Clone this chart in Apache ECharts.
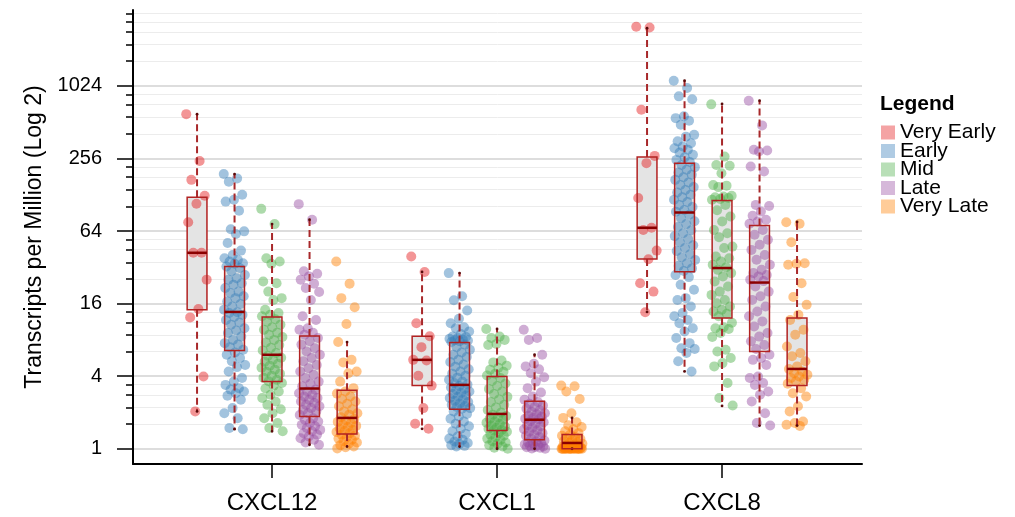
<!DOCTYPE html>
<html><head><meta charset="utf-8">
<script src="https://cdn.jsdelivr.net/npm/echarts@6/dist/echarts.min.js"></script>
<style>html,body{margin:0;padding:0;background:#fff}#c{width:1015px;height:517px}</style>
</head><body><div id="c"></div>
<script>
// ---------- categories / labels ----------
const genes = ['CXCL12', 'CXCL1', 'CXCL8'];
const stages = ['Very Early', 'Early', 'Mid', 'Late', 'Very Late'];
const yTickLabels = [1, 4, 16, 64, 256, 1024];
const yMinorTickValues = [1.6, 2.2, 2.8, 3.4, 6.4, 8.8, 11.2, 13.6, 25.6, 35.2, 44.8, 54.4,
  102.4, 140.8, 179.2, 217.6, 409.6, 563.2, 716.8, 870.4, 1638.4, 2252.8, 2867.2, 3481.6, 4096];

// ---------- point values, log2(TPM) ----------
const cxcl12_veryEarly = [9.22, 7.93, 7.41, 6.97, 6.75, 6.24, 5.40, 5.40, 4.66, 3.85, 3.62, 1.99, 1.03];
const cxcl12_early = [7.57, 7.45, 7.36, 7.00, 6.86, 6.81, 6.56, 6.05, 5.99, 5.92, 5.67, 5.46, 5.34, 5.25, 5.21, 5.16, 5.11, 5.10, 5.02,
  4.98, 4.89, 4.79, 4.70, 4.66, 4.56, 4.52, 4.43, 4.33, 4.29, 4.20, 4.15, 4.06, 3.99, 3.92, 3.83,
  3.76, 3.74, 3.69, 3.63, 3.55, 3.48, 3.42, 3.32, 3.26, 3.19, 3.09, 3.00, 2.91, 2.87, 2.80, 2.73,
  2.65, 2.59, 2.50, 2.41, 2.31, 2.25, 2.13, 1.95, 1.85, 1.76, 1.67, 1.63, 1.58, 1.53, 1.46, 1.35, 1.12, 0.98, 0.84, 0.57, 0.54];
const cxcl12_mid = [6.61, 6.19, 5.25, 5.16, 5.10, 4.61, 4.56, 4.33, 4.15, 4.10, 3.83, 3.74, 3.69, 3.65,
  3.57, 3.50, 3.42, 3.35, 3.28, 3.20, 3.14, 3.08, 3.00, 2.93, 2.86, 2.78, 2.71, 2.64,
  2.56, 2.51, 2.45, 2.40, 2.34, 2.29, 2.23, 2.18, 2.12, 2.07, 2.01, 1.96, 1.90, 1.86,
  1.81, 1.74, 1.66, 1.58, 1.49, 1.40, 1.30, 1.21, 1.09, 0.98, 0.84, 0.71, 0.57, 0.48];
const cxcl12_late = [6.74, 6.31, 4.89, 4.82, 4.75, 4.66, 4.55, 4.43, 4.32, 4.10, 3.65, 3.55, 3.32, 3.28, 3.20, 3.14,
  3.05, 2.96, 2.87, 2.77, 2.68, 2.59, 2.50, 2.41, 2.31, 2.22, 2.13, 2.04, 1.95, 1.85, 1.79, 1.72,
  1.63, 1.58, 1.53, 1.49, 1.44, 1.40, 1.35, 1.30, 1.26, 1.21, 1.17, 1.12, 1.07, 1.03, 0.98, 0.93,
  0.84, 0.80, 0.75, 0.71, 0.66, 0.62, 0.57, 0.52, 0.48, 0.43, 0.39, 0.34, 0.29, 0.25, 0.17, 0.11];
const cxcl12_veryLate = [5.16, 4.55, 4.15, 3.90, 3.44, 2.94, 2.45, 2.38, 2.13, 2.08, 1.85, 1.67,
  1.58, 1.52, 1.44, 1.37, 1.30, 1.24, 1.17, 1.09, 1.03, 0.98, 0.94, 0.87,
  0.82, 0.78, 0.74, 0.71, 0.67, 0.63, 0.60, 0.56, 0.52, 0.49, 0.46, 0.43,
  0.39, 0.36, 0.32, 0.28, 0.25, 0.21, 0.17, 0.14, 0.10, 0.06, 0.04, 0.01];

const cxcl1_veryEarly = [5.30, 4.87, 3.46, 3.10, 2.80, 2.45, 2.43, 2.01, 1.74, 1.12, 0.69, 0.55];
const cxcl1_early = [4.84, 4.20, 4.09, 3.81, 3.58, 3.46, 3.35, 3.32, 3.23, 3.16, 3.09, 3.08, 3.05, 3.03, 3.01, 2.99, 2.98, 2.96, 2.94,
  2.87, 2.80, 2.73, 2.65, 2.59, 2.53, 2.45, 2.39, 2.32, 2.26, 2.19, 2.13, 2.07, 2.01, 1.96, 1.90, 1.85, 1.81, 1.77,
  1.73, 1.69, 1.65, 1.62, 1.58, 1.54, 1.51, 1.47, 1.43, 1.40, 1.36, 1.32, 1.29, 1.25, 1.21, 1.18, 1.15, 1.12, 1.10,
  1.03, 0.96, 0.89, 0.83, 0.75, 0.69, 0.62, 0.55, 0.48, 0.41, 0.34, 0.28, 0.25, 0.20, 0.16, 0.13, 0.10, 0.08, 0.06];
const cxcl1_mid = [3.30, 3.09, 3.05, 3.00, 2.89, 2.86, 2.43, 2.38, 2.29, 2.23, 2.18, 2.12, 2.07, 2.02,
  1.95, 1.87, 1.80, 1.73, 1.65, 1.58, 1.51, 1.43, 1.36, 1.29, 1.21, 1.14, 1.07, 1.00,
  0.94, 0.90, 0.86, 0.83, 0.79, 0.75, 0.72, 0.68, 0.64, 0.61, 0.58, 0.55, 0.52, 0.50,
  0.47, 0.43, 0.39, 0.36, 0.32, 0.28, 0.25, 0.21, 0.17, 0.14, 0.10, 0.06, 0.03, 0.00];
const cxcl1_late = [3.28, 3.05, 3.00, 2.59, 2.34, 2.27, 2.19, 2.08, 1.97, 1.85, 1.67, 1.55, 1.44, 1.35,
  1.29, 1.24, 1.19, 1.15, 1.10, 1.06, 1.02, 0.98, 0.95, 0.91, 0.88, 0.85, 0.83, 0.81,
  0.76, 0.73, 0.69, 0.65, 0.62, 0.58, 0.54, 0.51, 0.47, 0.43, 0.39, 0.36, 0.32, 0.28,
  0.23, 0.20, 0.17, 0.16, 0.14, 0.12, 0.10, 0.08, 0.06, 0.05, 0.04, 0.03, 0.01, 0.00];
const cxcl1_veryLate = [1.74, 1.72, 1.58, 1.37, 0.98, 0.85, 0.73, 0.65, 0.60, 0.54, 0.48, 0.43, 0.39, 0.36, 0.32, 0.29,
  0.27, 0.24, 0.21, 0.18, 0.16, 0.14, 0.12, 0.10, 0.08, 0.06, 0.06, 0.05, 0.04, 0.03, 0.02, 0.01,
  0, 0, 0, 0, 0, 0, 0, 0, 0, 0, 0, 0, 0, 0, 0, 0];

const cxcl8_veryEarly = [11.63, 11.61, 9.34, 8.07, 7.87, 6.91, 6.09, 6.03, 5.46, 5.22, 4.56, 4.33, 3.76];
const cxcl8_early = [10.14, 9.94, 9.71, 9.63, 9.16, 9.11, 9.04, 8.93, 8.65, 8.60, 8.47, 8.42, 8.33, 8.28, 8.24, 8.16, 8.10, 8.03, 7.96, 7.90,
  7.82, 7.76, 7.69, 7.61, 7.55, 7.48, 7.41, 7.34, 7.27, 7.21, 7.13, 7.06, 7.00, 6.93, 6.86, 6.80, 6.72, 6.66, 6.58, 6.53,
  6.45, 6.35, 6.27, 6.19, 6.11, 6.02, 5.94, 5.86, 5.78, 5.69, 5.61, 5.53, 5.45, 5.36, 5.28, 5.20, 5.11, 5.04, 4.97, 4.90,
  4.79, 4.73, 4.52, 4.38, 4.15, 4.10, 3.92, 3.74, 3.65, 3.55, 3.46, 3.32, 3.23, 3.05, 2.91, 2.77, 2.75, 2.64, 2.41, 2.13];
const cxcl8_mid = [9.49, 8.05, 7.82, 7.80, 7.59, 7.27, 7.25, 7.21, 6.97, 6.95, 6.93, 6.91, 6.88, 6.86,
  6.72, 6.57, 6.40, 6.26, 6.03, 5.94, 5.83, 5.57, 5.53, 5.30, 5.25, 5.16, 5.07, 5.00,
  4.93, 4.84, 4.75, 4.61, 4.47, 4.33, 4.24, 4.10, 4.01, 3.92, 3.83, 3.78, 3.72, 3.65,
  3.47, 3.35, 3.32, 3.30, 3.19, 3.08, 2.73, 2.68, 2.50, 2.36, 2.27, 1.81, 1.40, 1.19];
const cxcl8_late = [9.59, 8.91, 8.24, 8.22, 8.19, 7.78, 7.64, 6.72, 6.69, 6.54, 6.42, 6.31, 6.26, 6.20,
  6.03, 5.90, 5.76, 5.62, 5.48, 5.34, 5.21, 5.07, 4.93, 4.84, 4.79, 4.75, 4.66, 4.62,
  4.47, 4.33, 4.20, 4.10, 3.92, 3.78, 3.65, 3.51, 3.37, 3.19, 3.09, 2.96, 2.86, 2.75,
  2.59, 2.50, 2.45, 2.31, 1.99, 1.95, 1.81, 1.76, 1.58, 1.49, 1.30, 0.98, 0.71, 0.64];
const cxcl8_veryLate = [6.24, 6.20, 5.69, 5.11, 5.10, 5.07, 4.56, 4.18, 3.97,
  3.69, 3.55, 3.28, 3.14, 2.82, 2.64, 2.55, 2.41, 2.27,
  2.20, 2.13, 2.08, 2.04, 1.99, 1.95, 1.90, 1.86, 1.79,
  1.67, 1.53, 1.44, 1.17, 1.03, 0.75, 0.71, 0.66, 0.63];

// ---------- box statistics, log2(TPM): [lower whisker, Q1, median, Q3, upper whisker] ----------
const boxCXCL12 = [[1.03, 3.83, 5.40, 6.93, 9.22], [0.54, 2.71, 3.77, 5.02, 7.57], [0.48, 1.85, 2.59, 3.63, 6.19], [0.11, 0.89, 1.66, 3.11, 6.31], [0.06, 0.41, 0.85, 1.61, 2.94]];
const boxCXCL1 = [[0.55, 1.74, 2.45, 3.10, 4.87], [0.06, 1.09, 1.76, 2.93, 4.84], [0.00, 0.50, 0.96, 1.99, 3.30], [0.00, 0.25, 0.80, 1.31, 2.59], [0.00, 0.00, 0.16, 0.39, 0.85]];
const boxCXCL8 = [[3.77, 5.23, 6.09, 8.04, 11.59], [2.13, 4.88, 6.51, 7.87, 10.14], [1.18, 3.60, 4.98, 6.84, 9.50], [0.64, 2.68, 4.58, 6.15, 9.59], [0.64, 1.74, 2.20, 3.60, 6.25]];

// ---------- assembly ----------
const points = [
  [cxcl12_veryEarly, cxcl12_early, cxcl12_mid, cxcl12_late, cxcl12_veryLate],
  [cxcl1_veryEarly, cxcl1_early, cxcl1_mid, cxcl1_late, cxcl1_veryLate],
  [cxcl8_veryEarly, cxcl8_early, cxcl8_mid, cxcl8_late, cxcl8_veryLate]
];
const boxes = [boxCXCL12, boxCXCL1, boxCXCL8];
const baseColors = [[228, 26, 28], [55, 126, 184], [77, 175, 74], [152, 78, 163], [255, 127, 0]];
const DODGE = 1 / 6, JIT = 0.048, BOXW = 0.088;
const xPos = (g, s) => g + 1 + (s - 2) * DODGE;

const scatterSeries = stages.map((name, s) => ({
  name, type: 'scatter', z: 3,
  symbolSize: 10,
  itemStyle: { color: `rgba(${baseColors[s].join(',')},0.58)` },
  data: genes.flatMap((gene, g) => points[g][s].map((v, i) => [xPos(g, s) + (((i * 0.6180339887) % 1) * 2 - 1) * JIT, v]))
}));
const boxData = [];
genes.forEach((gene, g) => stages.forEach((st, s) => boxData.push([xPos(g, s), ...boxes[g][s]])));

function renderFill(params, api) {
  const x = api.value(0);
  const q1 = api.coord([x, api.value(2)]), q3 = api.coord([x, api.value(4)]);
  const w = api.size([BOXW, 0])[0];
  return { type: 'rect', shape: { x: q1[0] - w / 2, y: q3[1], width: w, height: q1[1] - q3[1] }, style: { fill: '#e4e4e4' } };
}
function renderLines(params, api) {
  const x = api.value(0);
  const lo = api.coord([x, api.value(1)]), q1 = api.coord([x, api.value(2)]), md = api.coord([x, api.value(3)]),
        q3 = api.coord([x, api.value(4)]), hi = api.coord([x, api.value(5)]);
  const w = api.size([BOXW, 0])[0];
  const cx = q1[0];
  const wStyle = { stroke: '#a8282a', lineWidth: 2, lineDash: [7, 4] };
  const children = [];
  if (hi[1] < q3[1] - 1) children.push({ type: 'line', shape: { x1: cx, y1: q3[1], x2: cx, y2: hi[1] }, style: wStyle });
  if (lo[1] > q1[1] + 1) children.push({ type: 'line', shape: { x1: cx, y1: q1[1], x2: cx, y2: lo[1] }, style: wStyle });
  children.push({ type: 'circle', shape: { cx: cx, cy: hi[1], r: 1.4 }, style: { fill: '#5a0a0a' } });
  children.push({ type: 'circle', shape: { cx: cx, cy: lo[1], r: 1.4 }, style: { fill: '#5a0a0a' } });
  children.push({ type: 'rect', shape: { x: cx - w / 2, y: q3[1], width: w, height: q1[1] - q3[1] }, style: { fill: null, stroke: '#b22222', lineWidth: 1.5 } });
  children.push({ type: 'line', shape: { x1: cx - w / 2, y1: md[1], x2: cx + w / 2, y2: md[1] }, style: { stroke: '#8b0000', lineWidth: 2.5 } });
  return { type: 'group', children };
}

const FONT = '"Liberation Sans", Arial, Helvetica, sans-serif';
const chart = echarts.init(document.getElementById('c'), null, { renderer: 'canvas' });
chart.setOption({
  animation: false,
  backgroundColor: '#ffffff',
  textStyle: { fontFamily: FONT },
  title: { text: 'Legend', left: 880, top: 94, padding: 0, textStyle: { fontFamily: FONT, fontSize: 21, fontWeight: 'bold', color: '#000' } },
  legend: {
    orient: 'vertical', left: 881, top: 122, itemGap: -2.5, itemWidth: 14, itemHeight: 14, icon: 'rect',
    padding: 0,
    data: stages.map((n, s) => ({ name: n, itemStyle: { color: `rgba(${baseColors[s].join(',')},0.5)` } })),
    textStyle: { fontFamily: FONT, fontSize: 21, color: '#000', padding: 0 }
  },
  grid: { left: 133, right: 153, top: 10, bottom: 53, containLabel: false },
  xAxis: {
    type: 'value', min: 0.382, max: 3.622,
    splitLine: { show: false },
    axisLine: { show: true, onZero: false, lineStyle: { color: '#000', width: 2 } },
    axisTick: { show: true, customValues: [1, 2, 3], length: 14, lineStyle: { color: '#000', width: 1.5 } },
    axisLabel: { customValues: [1, 2, 3], formatter: v => genes[Math.round(v) - 1], fontFamily: FONT, fontSize: 24, color: '#000', margin: 27 }
  },
  yAxis: [{
    type: 'value', min: -0.42, max: 12.09, position: 'left',
    name: 'Transcripts per Million (Log 2)', nameLocation: 'middle', nameGap: 86,
    nameTextStyle: { fontFamily: FONT, fontSize: 23, color: '#000' },
    axisLine: { show: true, onZero: false, lineStyle: { color: '#000', width: 2 } },
    axisTick: { show: true, customValues: yTickLabels.map(Math.log2), length: 16, lineStyle: { color: '#000', width: 1.5 } },
    axisLabel: { customValues: yTickLabels.map(Math.log2), formatter: v => String(Math.round(Math.pow(2, v))), fontFamily: FONT, fontSize: 20, color: '#000', margin: 31 },
    splitLine: { show: true, lineStyle: { color: '#d2d2d2', width: 1.5 } }
  }, {
    type: 'value', min: -0.42, max: 12.09, position: 'left',
    axisLine: { show: false, onZero: false },
    axisTick: { show: true, customValues: yMinorTickValues.map(Math.log2), length: 7, lineStyle: { color: '#000', width: 1.5 } },
    axisLabel: { show: false },
    splitLine: { show: true, lineStyle: { color: '#ececec', width: 1 } }
  }],
  series: [
    { type: 'custom', name: 'boxFill', z: 2, renderItem: renderFill, data: boxData, encode: { x: 0, y: [1, 2, 3, 4, 5] }, silent: true },
    ...scatterSeries,
    { type: 'custom', name: 'boxLines', z: 4, renderItem: renderLines, data: boxData, encode: { x: 0, y: [1, 2, 3, 4, 5] }, silent: true }
  ]
});
</script>
</body></html>
